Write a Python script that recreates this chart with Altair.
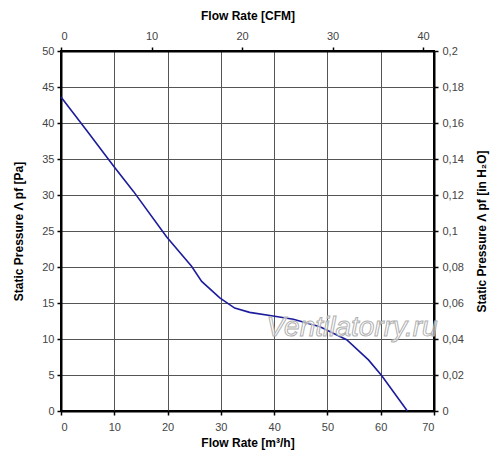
import altair as alt
import pandas as pd

flow_m3h = [0, 5, 10, 13.6, 19.8, 24.5, 26.4, 29.8, 32.6, 35.4, 39.8, 43.6, 48.6, 53.6, 57.7, 60.2, 65]
pressure_pa = [43.6, 38.8, 33.9, 30.5, 24.2, 20.1, 18.0, 15.7, 14.3, 13.7, 13.2, 12.75, 11.7, 9.9, 7.1, 4.9, 0]

x_ticks = [0, 10, 20, 30, 40, 50, 60, 70]
y_ticks = [0, 5, 10, 15, 20, 25, 30, 35, 40, 45, 50]
cfm_ticks = [0, 10, 20, 30, 40]
inh2o_ticks = [0, 0.02, 0.04, 0.06, 0.08, 0.1, 0.12, 0.14, 0.16, 0.18, 0.2]

M3H_PER_CFM = 1.699
PA_PER_INH2O = 250.0

df = pd.DataFrame({"flow": flow_m3h, "pa": pressure_pa})
df["cfm"] = df["flow"] / M3H_PER_CFM
df["inh2o"] = df["pa"] / PA_PER_INH2O

FONT = "Liberation Sans"
W, H = 373, 360

main = alt.Chart(df).mark_line(color="#1c1c9c", strokeWidth=1.6).encode(
    x=alt.X("flow:Q", scale=alt.Scale(domain=[0, 70], nice=False, zero=False),
            axis=alt.Axis(values=x_ticks, title="Flow Rate [m³/h]", orient="bottom",
                          grid=True, gridColor="#555555", gridWidth=1,
                          domainColor="black", domainWidth=2,
                          tickColor="black", tickSize=4, tickWidth=1.5,
                          labelPadding=6, titlePadding=5)),
    y=alt.Y("pa:Q", scale=alt.Scale(domain=[0, 50], nice=False),
            axis=alt.Axis(values=y_ticks, title="Static Pressure Λ pf [Pa]", orient="left",
                          grid=True, gridColor="#555555", gridWidth=1,
                          domainColor="black", domainWidth=2,
                          tickColor="black", tickSize=4, tickWidth=1.5,
                          labelPadding=3, titlePadding=16)),
)

second = alt.Chart(df).mark_line(opacity=0).encode(
    x=alt.X("cfm:Q", scale=alt.Scale(domain=[0, 70 / M3H_PER_CFM], nice=False, zero=False),
            axis=alt.Axis(values=cfm_ticks, title="Flow Rate [CFM]", orient="top",
                          grid=False, domainColor="black", domainWidth=2,
                          tickColor="black", tickSize=4, tickWidth=1.5,
                          labelPadding=6, titlePadding=8)),
    y=alt.Y("inh2o:Q", scale=alt.Scale(domain=[0, 0.2], nice=False),
            axis=alt.Axis(values=inh2o_ticks, title="Static Pressure Λ pf [in H₂O]", orient="right",
                          labelExpr="replace(format(datum.value, '~r'), '.', ',')",
                          titleAngle=270, titleBaseline="top",
                          grid=False, domainColor="black", domainWidth=2,
                          tickColor="black", tickSize=4, tickWidth=1.5,
                          labelPadding=4, titlePadding=13)),
)

watermark = alt.Chart(pd.DataFrame({"t": ["Ventilatorry.ru"]})).mark_text(
    font=FONT, fontSize=28, fontStyle="italic", fill="white", fillOpacity=0.6,
    stroke="#b0b0b0", strokeWidth=1, align="center", baseline="middle"
).encode(text="t:N", x=alt.value(291), y=alt.value(277))

chart = alt.layer(main, second, watermark).resolve_scale(
    x="independent", y="independent"
).properties(
    width=W, height=H,
    autosize=alt.AutoSizeParams(type="none"),
    padding={"left": 53, "top": 43, "right": 58, "bottom": 40},
).configure_view(
    stroke="black", strokeWidth=2
).configure_axis(
    labelFont=FONT, labelFontSize=11, labelColor="#444444",
    titleFont=FONT, titleFontSize=12, titleFontWeight="bold", titleColor="black",
)

chart.save("out.html", embed_options={"renderer": "svg", "actions": False})
